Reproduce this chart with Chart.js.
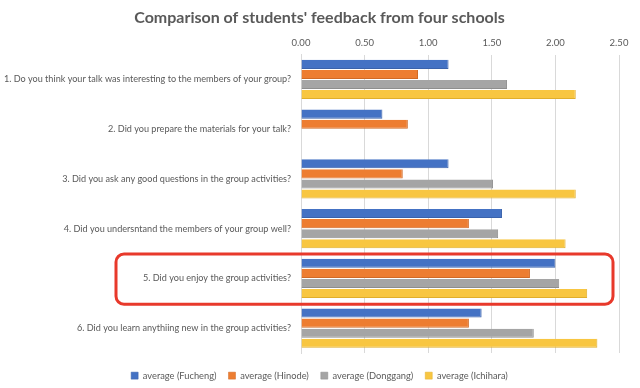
<!DOCTYPE html>
<html>
<head>
<meta charset="utf-8">
<script src="https://cdn.jsdelivr.net/npm/chart.js@4/dist/chart.umd.min.js"></script>
<style>
  html, body { margin: 0; padding: 0; background: #ffffff; }
  #wrap { width: 640px; height: 388px; position: relative; }
</style>
</head>
<body>
<div id="wrap"><canvas id="c" width="640" height="388"></canvas></div>
<script>
const categories = [
  "1. Do you think your talk was interesting to the members of your group?",
  "2. Did you prepare the materials for your talk?",
  "3. Did you ask any good questions in the group activities?",
  "4. Did you undersntand the members of your group well?",
  "5. Did you enjoy the group activities?",
  "6. Did you learn anythiing new in the group activities?"
];
const seriesNames = ["average (Fucheng)", "average (Hinode)", "average (Donggang)", "average (Ichihara)"];
const fucheng  = [1.16, 0.64, 1.16, 1.58, 2.00, 1.42];
const hinode   = [0.92, 0.84, 0.80, 1.32, 1.80, 1.32];
const donggang = [1.62, null, 1.51, 1.55, 2.03, 1.83];
const ichihara = [2.16, null, 2.16, 2.08, 2.25, 2.33];
const tickValues = [0, 0.5, 1.0, 1.5, 2.0, 2.5];
const highlightIndex = 4;

const colors = ["#4472c4", "#ed7d31", "#a5a5a5", "#f8c641"];
const borders = ["#3a62ab", "#d06a26", "#8e8e8e", "#e0ae2c"];
const values = [fucheng, hinode, donggang, ichihara];

const FONT = "Lato, 'Open Sans', sans-serif";
const TEXT = "#595959";

const highlightBox = {
  id: 'highlightBox',
  afterDatasetsDraw(chart) {
    const { ctx, chartArea, scales } = chart;
    const y = scales.y;
    const cy = y.getPixelForValue(highlightIndex);
    const half = (y.getPixelForValue(1) - y.getPixelForValue(0)) / 2;
    const left = 116, right = chartArea.right - 6;
    const top = cy - half + 0.5, bottom = cy + half + 1;
    ctx.save();
    ctx.strokeStyle = "#e8392b";
    ctx.lineWidth = 3;
    ctx.beginPath();
    ctx.roundRect(left, top, right - left, bottom - top, 8);
    ctx.stroke();
    ctx.restore();
  }
};

const blockPlace = {
  id: 'blockPlace',
  afterInit(chart) {
    const lg = chart.legend;
    if (!lg) return;
    const orig = lg.fit.bind(lg);
    lg.fit = function () { orig(); this.height = 35; };
  },
  afterLayout(chart) {
    const lg = chart.legend;
    if (lg) {
      lg.top += 6; lg.bottom += 6;
      lg.left += 20;
      if (lg.legendHitBoxes) lg.legendHitBoxes.forEach(h => { h.top += 6; h.left += 10; });
    }
    const tb = chart.titleBlock;
    if (tb) { tb.left += 20; }
  }
};

new Chart(document.getElementById('c'), {
  type: 'bar',
  data: {
    labels: categories,
    datasets: seriesNames.map((n, i) => ({
      label: n,
      data: values[i],
      backgroundColor: colors[i],
      borderColor: borders[i],
      borderWidth: { right: 1, top: 0, bottom: 1, left: 0 },
      categoryPercentage: 0.81,
      barPercentage: 0.9
    }))
  },
  options: {
    indexAxis: 'y',
    responsive: false,
    animation: false,
    layout: { padding: { left: 0, right: 21, top: 0, bottom: 0 } },
    plugins: {
      title: {
        display: true,
        text: "Comparison of students' feedback from four schools",
        color: TEXT,
        font: { family: FONT, size: 16, weight: 'bold' },
        padding: { top: 8, bottom: 4 }
      },
      legend: {
        position: 'bottom',
        labels: {
          color: TEXT,
          font: { family: FONT, size: 9.3 },
          boxWidth: 7,
          boxHeight: 7,
          padding: 12
        }
      },
      tooltip: { enabled: false }
    },
    scales: {
      x: {
        position: 'top',
        min: 0,
        max: 2.5,
        afterBuildTicks(scale) { scale.ticks = tickValues.map(v => ({ value: v })); },
        ticks: {
          color: TEXT,
          font: { family: FONT, size: 9.5 },
          padding: 6,
          callback: v => Number(v).toFixed(2)
        },
        grid: { color: "#d9d9d9", drawTicks: false },
        border: { display: false }
      },
      y: {
        afterFit(scale) { scale.width = 301; },
        ticks: {
          color: TEXT,
          font: { family: FONT, size: 9.1 },
          padding: 10,
          autoSkip: false
        },
        grid: { display: false, drawTicks: false },
        border: { display: true, color: "#d9d9d9" }
      }
    }
  },
  plugins: [highlightBox, blockPlace]
});
</script>
</body>
</html>
